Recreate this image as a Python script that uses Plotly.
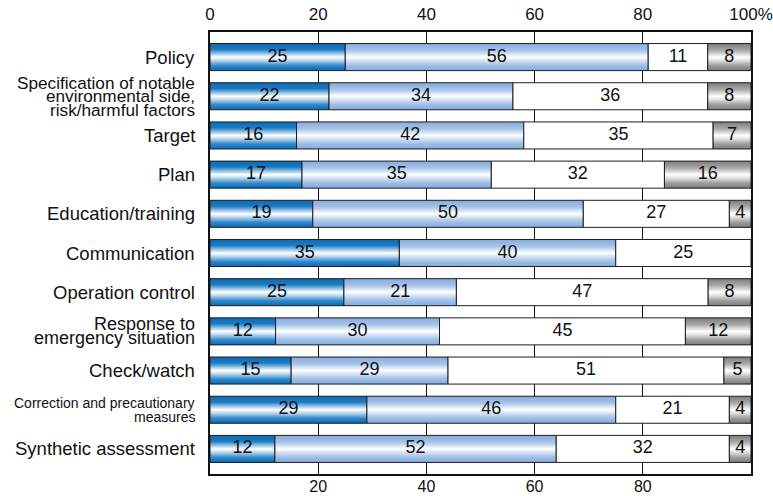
import plotly.graph_objects as go

# Survey items (top to bottom); "\n" marks a line break in the label
categories = [
    "Policy",
    "Specification of notable\nenvironmental side,\nrisk/harmful factors",
    "Target",
    "Plan",
    "Education/training",
    "Communication",
    "Operation control",
    "Response to\nemergency situation",
    "Check/watch",
    "Correction and precautionary\nmeasures",
    "Synthetic assessment",
]

# Share of answers per item (%), four response groups stacked left to right
group_a = [25, 22, 16, 17, 19, 35, 25, 12, 15, 29, 12]
group_b = [56, 34, 42, 35, 50, 40, 21, 30, 29, 46, 52]
group_c = [11, 36, 35, 32, 27, 25, 47, 45, 51, 21, 32]
group_d = [8, 8, 7, 16, 4, 0, 8, 12, 5, 4, 4]

top_ticks = [0, 20, 40, 60, 80, 100]
top_labels = ["0", "20", "40", "60", "80", "100%"]
bottom_ticks = [20, 40, 60, 80]
bottom_labels = ["20", "40", "60", "80"]

FONT = "Liberation Sans, Arial, sans-serif"

# Glossy vertical gradients for each group
grad_a = [[0, "#0a6ab4"], [0.22, "#1b7cc4"], [0.5, "#ffffff"], [0.62, "#bcd8ef"],
          [0.82, "#2f88cc"], [1, "#0a6ab4"]]
grad_b = [[0, "#84abde"], [0.25, "#a6c3e8"], [0.5, "#ffffff"], [0.62, "#d6e4f5"],
          [0.82, "#9dbde6"], [1, "#84abde"]]
grad_c = [[0, "#ffffff"], [1, "#ffffff"]]
grad_d = [[0, "#7c7c7c"], [0.25, "#a9a9a9"], [0.5, "#ffffff"], [0.62, "#e2e2e2"],
          [0.82, "#9c9c9c"], [1, "#7c7c7c"]]

groups = [group_a, group_b, group_c, group_d]
gradients = [grad_a, grad_b, grad_c, grad_d]

half = 0.345  # half bar thickness in row units

fig = go.Figure()

label_x, label_y, label_t = [], [], []
for i in range(len(categories)):
    row = [g[i] for g in groups]
    total = sum(row)
    cum = 0
    for v, grad in zip(row, gradients):
        if v <= 0:
            continue
        x0 = cum / total * 100
        x1 = (cum + v) / total * 100
        cum += v
        fig.add_trace(go.Scatter(
            x=[x0, x1, x1, x0, x0],
            y=[i - half, i - half, i + half, i + half, i - half],
            mode="lines",
            fill="toself",
            fillgradient=dict(type="vertical", colorscale=grad,
                              start=i - half, stop=i + half),
            line=dict(color="#1e1e1e", width=1),
            hoverinfo="skip",
            showlegend=False,
        ))
        label_x.append((x0 + x1) / 2)
        label_y.append(i)
        label_t.append(str(v))

# value labels centred in each segment
fig.add_trace(go.Scatter(
    x=label_x, y=label_y, text=label_t, mode="text",
    textfont=dict(family=FONT, size=18, color="#111111"),
    hoverinfo="skip", showlegend=False,
))

# bottom axis ticks (second x axis sharing the same scale)
fig.add_trace(go.Scatter(x=[50], y=[0], xaxis="x2", mode="markers",
                         marker=dict(opacity=0), hoverinfo="skip",
                         showlegend=False))

# category labels, line by line for tight leading
for i, name in enumerate(categories):
    lines = name.split("\n")
    n = len(lines)
    if n == 1:
        size, step = 18.5, 0
    elif len(lines[0]) > 26:
        size, step = 14, 14
    elif n == 3:
        size, step = 17.2, 13.5
    else:
        size, step = 18, 14
    for k, line in enumerate(lines):
        fig.add_annotation(
            x=0, xref="paper", y=i, yref="y",
            text=line, showarrow=False,
            xanchor="right", yanchor="middle", xshift=-13,
            yshift=-(k - (n - 1) / 2) * step,
            font=dict(family=FONT, size=size, color="#111111"),
        )

fig.update_layout(
    width=773, height=496,
    margin=dict(l=210, r=22, t=32, b=22),
    paper_bgcolor="white", plot_bgcolor="white",
    xaxis=dict(
        range=[0, 100], side="top", automargin=False,
        tickvals=top_ticks, ticktext=top_labels,
        tickfont=dict(family=FONT, size=17, color="#111111"),
        ticks="", ticklabelstandoff=3,
        showgrid=True, gridcolor="#111111", gridwidth=1,
        zeroline=False,
        showline=True, mirror=True, linecolor="#111111", linewidth=2,
    ),
    xaxis2=dict(
        range=[0, 100], overlaying="x", side="bottom", anchor="y",
        automargin=False,
        tickvals=bottom_ticks, ticktext=bottom_labels,
        tickfont=dict(family=FONT, size=16, color="#111111"),
        ticks="", ticklabelstandoff=1,
        showgrid=False, zeroline=False, showline=False,
    ),
    yaxis=dict(
        range=[len(categories) - 0.36, -0.64], automargin=False,
        showticklabels=False, ticks="",
        showgrid=False, zeroline=False,
        showline=True, mirror=True, linecolor="#111111", linewidth=2,
    ),
)

fig.write_html("out.html")
